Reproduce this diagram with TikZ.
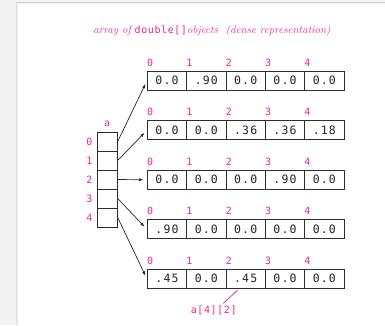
\documentclass[tikz,border=0pt]{standalone}
\usepackage{fontspec}
\usetikzlibrary{arrows.meta}
\newfontfamily\cellfont[LetterSpace=10]{DejaVu Sans Mono}
\newfontfamily\idxfont[LetterSpace=6]{DejaVu Sans Mono}
\definecolor{magentaink}{RGB}{236,38,143}
\definecolor{boxline}{RGB}{45,45,45}
\definecolor{pagebg}{RGB}{243,243,243}
\begin{document}
\begin{tikzpicture}[x=1pt,y=-1pt,
  cellbox/.style={draw=boxline,line width=0.8pt,minimum width=39.35pt,minimum height=19pt,
    inner sep=0pt,font=\cellfont\fontsize{11.5}{11.5}\selectfont,text=black!85},
  refbox/.style={draw=boxline,line width=0.8pt,minimum width=19.6pt,minimum height=19pt,inner sep=0pt},
  idx/.style={text=magentaink,inner sep=0pt,font=\idxfont\fontsize{10}{10}\selectfont},
  idxnum/.style={idx,text height=7.3pt,text depth=0pt},
  ptr/.style={draw=black!85,line width=0.7pt,-{Latex[length=4.5pt,width=3pt]}}]
% page sheet on a grey desk, with a soft shadow on its upper left edges
\useasboundingbox (0,0) rectangle (385,325);
\fill[pagebg] (0,0) rectangle (385,325);
\fill[black!18] (15.5,2) rectangle (385,325);
\fill[black!12] (16.3,2.8) rectangle (385,325);
\fill[black!7] (17.1,3.4) rectangle (385,325);
\fill[white] (18,4) rectangle (385,325);

% title
\node[text=magentaink,inner sep=0pt,anchor=base] (title) at (212,33)
  {\fontsize{11}{11}\selectfont\itshape array of \upshape{\idxfont\fontsize{10}{10}\selectfont double[]}\itshape objects\ \ (dense representation)};

% the array of references
\node[idx] (alabel) at (107.2,123.3) {a};
\foreach \k in {0,...,4}{
  \node[refbox] (a\k) at (107.5,{141.5+19*\k}) {};
  \node[idxnum] (ai\k) at (89.3,{141.5+19*\k}) {\k};
}

% the five rows of values, each reached from one entry of a
\foreach \i/\va/\vb/\vc/\vd/\ve in {0/0.0/.90/0.0/0.0/0.0, 1/0.0/0.0/.36/.36/.18, 2/0.0/0.0/0.0/.90/0.0, 3/.90/0.0/0.0/0.0/0.0, 4/.45/0.0/.45/0.0/0.0}{
  \pgfmathsetmacro\rc{80.8+49.5*\i}
  \foreach \j/\v in {0/\va,1/\vb,2/\vc,3/\vd,4/\ve}{
    \node[cellbox] (r\i c\j) at ({147.3+19.675+39.35*\j},\rc) {\v};
    \node[idxnum] (r\i i\j) at ({147.3+2.8+39.35*\j},{\rc-18}) {\j};
  }
  \draw[ptr,shorten >=3.3pt] (a\i.east) -- (r\i c0.west);
}

% label of one element
\node[idx] (elem) at (213.7,310) {a[4][2]};
\draw[magentaink,line width=0.7pt] (223.3,303.3) -- (237.7,290);
\end{tikzpicture}
\end{document}
